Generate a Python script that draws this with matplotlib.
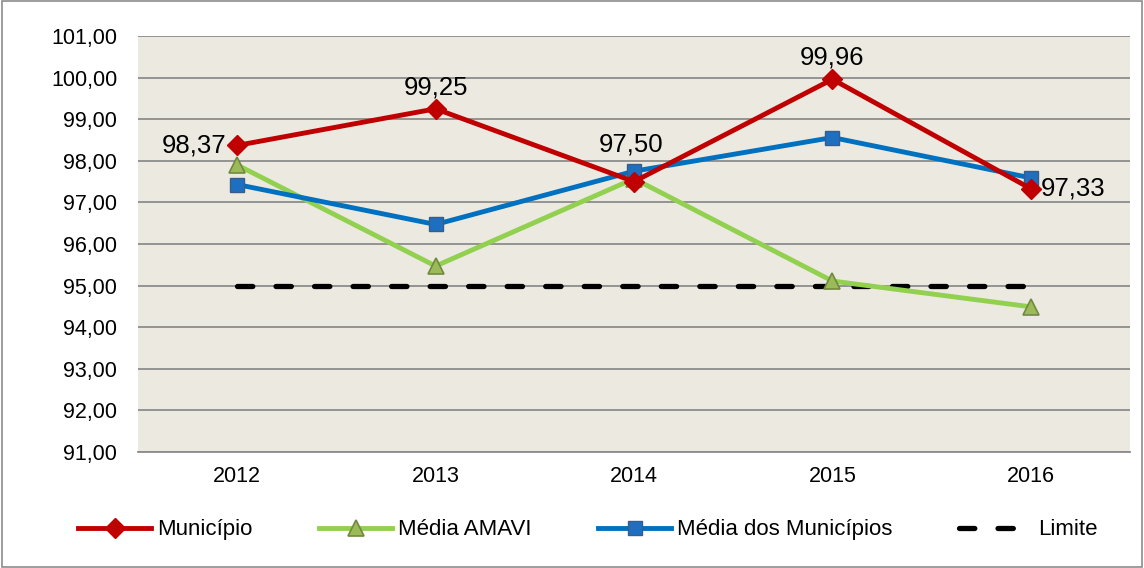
import numpy as np
import matplotlib
matplotlib.use("Agg")
import matplotlib.pyplot as plt
from matplotlib.patches import Rectangle

anos = ["2012", "2013", "2014", "2015", "2016"]
municipio = [98.37, 99.25, 97.50, 99.96, 97.33]
media_amavi = [97.90, 95.47, 97.57, 95.11, 94.49]
media_municipios = [97.43, 96.47, 97.75, 98.56, 97.59]
limite = [95, 95, 95, 95, 95]

plt.rcParams['font.family'] = ['Liberation Sans', 'DejaVu Sans']

fig = plt.figure(figsize=(11.44, 5.68), dpi=100)
ax = fig.add_axes([0.1206, 0.2042, 0.8672, 0.7324])
ax.set_facecolor("#ECEAE0")

x = np.arange(len(anos))

# limite primeiro (fica por baixo)
ax.plot(x, limite, color="black", lw=3.8, dashes=(2.9, 4.4),
        dash_capstyle="round", label="Limite", zorder=3)
ax.plot(x, media_amavi, color="#92D050", lw=3.5, marker="^", ms=11,
        mfc="#9BBB59", mec="#71893F", mew=1.2, label="Média AMAVI", zorder=4)
ax.plot(x, media_municipios, color="#0070C0", lw=3.5, marker="s", ms=10,
        mfc="#1F6FC0", mec="#385D8A", mew=1.0, label="Média dos Municípios", zorder=5)
ax.plot(x, municipio, color="#C00000", lw=3.5, marker="D", ms=10,
        mfc="#C00000", mec="#C00000", label="Município", zorder=6)

# rotulos do municipio
offs = [(-8, 0, "right", "center"), (0, 7, "center", "bottom"), (-2, 18, "center", "bottom"),
        (0, 7, "center", "bottom"), (7, 0, "left", "center")]
for i, v in enumerate(municipio):
    dx, dy, ha, va = offs[i]
    ax.annotate(f"{v:.2f}".replace(".", ","), (x[i], v), xytext=(dx, dy),
                textcoords="offset points", ha=ha, va=va, fontsize=18.5, zorder=7)

ax.set_xlim(-0.5, 4.5)
ax.set_ylim(91, 101)
ax.set_yticks(np.arange(91, 102, 1))
ax.set_yticklabels([f"{v:.2f}".replace(".", ",") for v in np.arange(91, 102, 1)])
ax.set_xticks(x)
ax.set_xticklabels(anos)
ax.tick_params(axis="both", labelsize=15.5, length=0)
ax.tick_params(axis="x", pad=10)
ax.tick_params(axis="y", pad=15)
ax.yaxis.grid(True, color="#8C8C8C", lw=1.3)
ax.set_axisbelow(True)
for s in ["top", "right", "left"]:
    ax.spines[s].set_visible(False)
ax.spines["bottom"].set_color("#8C8C8C")
ax.spines["bottom"].set_linewidth(1.3)

h, l = ax.get_legend_handles_labels()
ordem = [3, 1, 2, 0]
fig.legend([h[i] for i in ordem], [l[i] for i in ordem], loc="center",
           bbox_to_anchor=(0.5136, 0.067), ncol=4, frameon=False, fontsize=16,
           columnspacing=3.0, handlelength=3.3, handletextpad=0.25)

# moldura externa
fig.patches.append(Rectangle((0.002, 0.002), 0.996, 0.996, transform=fig.transFigure,
                             fill=False, ec="#8C8C8C", lw=1.2))

fig.savefig("out.png", dpi=100)
